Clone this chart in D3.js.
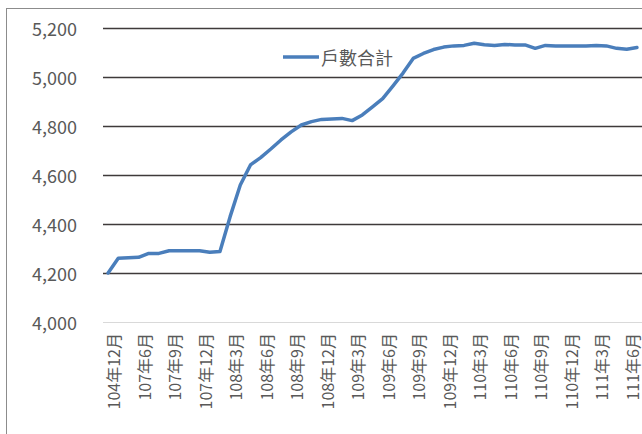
<!DOCTYPE html>
<html>
<head>
<meta charset="utf-8">
<script src="https://cdn.jsdelivr.net/npm/d3@7"></script>
<style>
  html, body { margin: 0; padding: 0; background: #fff; }
  svg { display: block; }
  text { font-family: "Noto Sans CJK TC", "Noto Sans", sans-serif; }
</style>
</head>
<body>
<svg id="chart" width="642" height="434"></svg>
<script>
// ---- data ----
const categories = (function () {
  const c = ["104年12月", "105年12月", "106年12月"];
  let y = 107, m = 6;
  for (let k = 0; k < 50; k++) {
    c.push(y + "年" + m + "月");
    m++; if (m > 12) { m = 1; y++; }
  }
  return c;
})();
const seriesName = "戶數合計";
const values = [
  4200, 4260, 4262, 4264, 4280, 4280, 4291, 4291, 4291, 4291,
  4285, 4288, 4430, 4559, 4641, 4671, 4706, 4743, 4776, 4804,
  4818, 4827, 4829, 4831, 4822, 4845, 4878, 4912, 4963, 5016,
  5076, 5096, 5112, 5122, 5127, 5129, 5138, 5132, 5129, 5133,
  5131, 5131, 5117, 5129, 5127, 5127, 5127, 5127, 5129, 5127,
  5117, 5113, 5120
];
const yTicks = [4000, 4200, 4400, 4600, 4800, 5000, 5200];

// ---- layout ----
const svg = d3.select("#chart");
const plot = { left: 103, right: 642, top: 28, bottom: 322 };

// chart frame
svg.append("rect")
  .attr("x", 6.5).attr("y", 8.5)
  .attr("width", 700).attr("height", 500)
  .attr("fill", "#fff").attr("stroke", "#8c8c8c").attr("stroke-width", 1);

const x = d3.scalePoint()
  .domain(categories)
  .range([plot.left, plot.right])
  .padding(0.5);

const y = d3.scaleLinear()
  .domain([4000, 5200])
  .range([plot.bottom, plot.top]);

// gridlines
svg.append("g").selectAll("line")
  .data(yTicks.filter(d => d !== 4000))
  .join("line")
  .attr("x1", plot.left).attr("x2", plot.right)
  .attr("y1", d => Math.round(y(d)) + 0.5).attr("y2", d => Math.round(y(d)) + 0.5)
  .attr("stroke", "#3f3a3a").attr("stroke-width", 1.6);

// category axis line
svg.append("line")
  .attr("x1", plot.left).attr("x2", plot.right)
  .attr("y1", plot.bottom + 0.5).attr("y2", plot.bottom + 0.5)
  .attr("stroke", "#d9d9d9").attr("stroke-width", 1.2);

// y labels
svg.append("g").selectAll("text")
  .data(yTicks)
  .join("text")
  .attr("x", 77)
  .attr("y", d => y(d))
  .attr("text-anchor", "end")
  .attr("dominant-baseline", "central")
  .attr("font-size", 18)
  .attr("fill", "#595959")
  .text(d => d3.format(",")(d));

// x labels (every 3rd category)
const xLabels = categories.filter((d, i) => i % 3 === 0);
svg.append("g").selectAll("text")
  .data(xLabels)
  .join("text")
  .attr("transform", d => `translate(${x(d) + 5},333) rotate(-90)`)
  .attr("text-anchor", "end")
  .attr("dominant-baseline", "central")
  .attr("font-size", 16)
  .attr("fill", "#595959")
  .text(d => d);

// series line
const line = d3.line()
  .x((d, i) => x(categories[i]))
  .y(d => y(d));

svg.append("path")
  .datum(values)
  .attr("d", line)
  .attr("fill", "none")
  .attr("stroke", "#4a7ebb")
  .attr("stroke-width", 3.5)
  .attr("stroke-linejoin", "round")
  .attr("stroke-linecap", "round");

// legend
const lg = svg.append("g");
lg.append("line")
  .attr("x1", 283).attr("x2", 319)
  .attr("y1", 57).attr("y2", 57)
  .attr("stroke", "#4a7ebb").attr("stroke-width", 3.5);
lg.append("text")
  .attr("x", 321).attr("y", 57)
  .attr("dominant-baseline", "central")
  .attr("font-size", 18)
  .attr("fill", "#595959")
  .text(seriesName);
</script>
</body>
</html>
